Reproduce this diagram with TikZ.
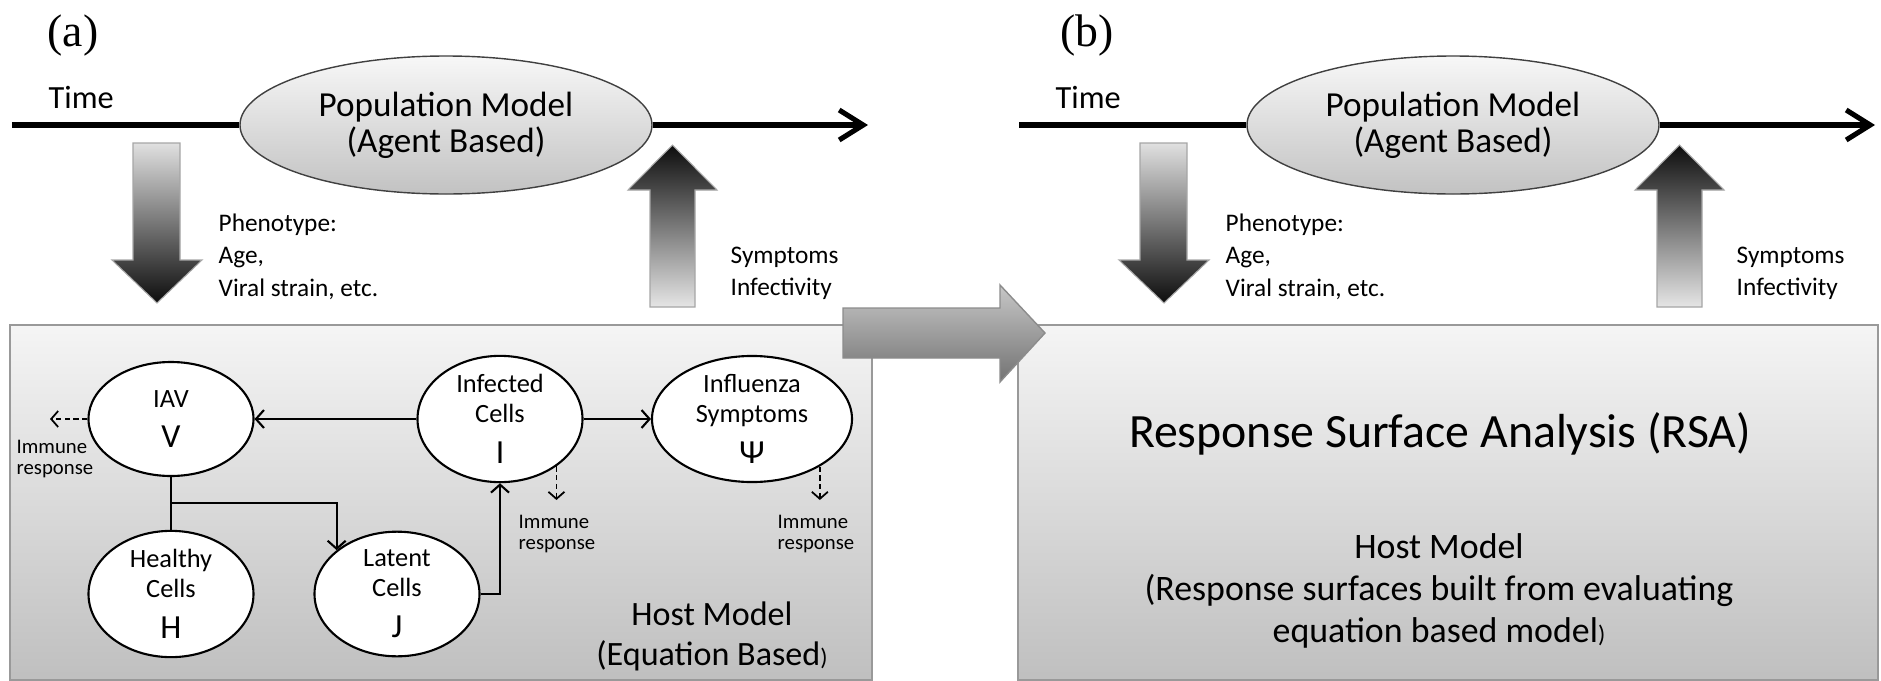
\documentclass[tikz,border=0pt]{standalone}
\usepackage{fontspec}
\setmainfont{Carlito}
\newfontfamily\panelfont{Liberation Serif}
\usepackage{tikz}
\usetikzlibrary{arrows.meta,shapes.geometric}
\newcommand{\edgewidth}{0.6pt}
\newcommand{\timewidth}{1.45pt}
\newcommand{\cellfont}{\fontsize{7.5}{8.5}\selectfont}
\newcommand{\letterfont}{\fontsize{9.6}{9}\selectfont}
\newcommand{\immunefont}{\fontsize{5.9}{6}\selectfont}
\newcommand{\notefont}{\fontsize{7.2}{9.25}\selectfont}
\newcommand{\popfont}{\fontsize{10}{10.3}\selectfont}
\newcommand{\tinyparen}{{\fontsize{6.8}{6.8}\selectfont )}}

\tikzset{
  panelbox/.style={draw=black!40, line width=0.5pt, top color=black!4, bottom color=black!25},
  popmodel/.style={ellipse, draw=black!75, line width=0.4pt, top color=black!3, bottom color=black!24,
    minimum width=4.12cm, minimum height=1.38cm, inner sep=0pt, align=center, font=\popfont},
  cell/.style={ellipse, draw, line width=\edgewidth, fill=white, minimum width=1.65cm,
    minimum height=1.14cm, inner sep=0pt, align=center, font=\cellfont},
  flow/.style={line width=\edgewidth, -{Straight Barb[length=0.8mm,width=1.8mm]}},
  immune/.style={line width=0.5pt, dash pattern=on 1.5pt off 1pt, -{Straight Barb[length=0.7mm,width=1.6mm]}},
  timeline/.style={line width=\timewidth},
  note/.style={anchor=north west, inner sep=0pt, align=left},
  downarrow/.style={draw=black!35, line width=0.3pt, top color=black!12, bottom color=black!95},
  uparrow/.style={draw=black!35, line width=0.3pt, top color=black!95, bottom color=black!10},
  bigarrow/.style={draw=black!45, line width=0.4pt, top color=black!22, bottom color=black!55}
}

\begin{document}
\begin{tikzpicture}
\useasboundingbox (0,0) rectangle (18.81,-6.81);
%boxes
\shade[panelbox] (0.10,-3.25) rectangle (8.72,-6.80);
\shade[panelbox] (10.18,-3.25) rectangle (18.78,-6.80);
%a
\node (pa) at (0.47,-0.355) [anchor=west, inner sep=0pt, font=\panelfont\fontsize{13}{13}\selectfont] {(a)};
\node (timea) at (0.48,-1.08) [anchor=base west, inner sep=0pt, font=\fontsize{9.2}{10}\selectfont] {Time};
\coordinate (ta0) at (0.12,-1.25);
\coordinate (ta1) at (8.68,-1.25);
\node[popmodel] (popa) at (4.46,-1.25) {Population Model\\(Agent Based)};
\draw[timeline] (ta0) -- (popa);
\draw[timeline, -{Straight Barb[length=2.4mm,width=3mm]}] (popa) -- (ta1);
\shade[downarrow] (1.33,-1.43) -- (1.80,-1.43) -- (1.80,-2.60) -- (2.02,-2.60) -- (1.57,-3.03) -- (1.12,-2.60) -- (1.33,-2.60) -- cycle;
\shade[uparrow] (6.50,-3.07) -- (6.95,-3.07) -- (6.95,-1.90) -- (7.17,-1.90) -- (6.725,-1.45) -- (6.28,-1.90) -- (6.50,-1.90) -- cycle;
\node (phena) at (2.18,-2.13) [note, font=\notefont] {Phenotype:\\Age,\\Viral strain, etc.};
\node (sympa) at (7.30,-2.46) [note, font=\notefont] {Symptoms\\Infectivity};
%host model a
\node[cell] (iav) at (1.71,-4.19) {IAV\\[2.7pt]{\letterfont V}};
\node[cell] (inf) at (5.00,-4.19) {Infected\\Cells\\[3.2pt]{\letterfont I}};
\node[cell] (flu) at (7.52,-4.19) [minimum width=2.00cm, minimum height=1.20cm] {Influenza\\Symptoms\\[3.2pt]{\letterfont Ψ}};
\node[cell] (hea) at (1.71,-5.94) {Healthy\\Cells\\[3.2pt]{\letterfont H}};
\node[cell] (lat) at (3.97,-5.94) {Latent\\Cells\\[3.2pt]{\letterfont J}};
\draw[flow] (inf) -- (iav);
\draw[flow] (inf) -- (flu);
\draw[line width=\edgewidth] (iav) -- (hea);
\coordinate (split) at (1.71,-5.03);
\draw[flow] (split) -| (lat.144);
\draw[flow] (lat.east) -| (inf.south);
\coordinate (immv) at (0.50,-4.19);
\coordinate (immi) at (5.52,-5.00);
\coordinate (immf) at (8.17,-5.00);
\draw[immune] (iav) -- (immv);
\draw[immune] (inf.-40) -- (inf.-40 |- immi);
\draw[immune] (flu.-35) -- (flu.-35 |- immf);
\node (nv) at (0.16,-4.39) [note, font=\immunefont] {Immune\\response};
\node (ni) at (5.18,-5.14) [note, font=\immunefont] {Immune\\response};
\node (nf) at (7.77,-5.14) [note, font=\immunefont] {Immune\\response};
\node (hosta) at (7.12,-6.36) [align=center, font=\fontsize{9.7}{11.4}\selectfont] {Host Model\\(Equation Based\tinyparen};
%b
\node (pb) at (10.60,-0.355) [anchor=west, inner sep=0pt, font=\panelfont\fontsize{13}{13}\selectfont] {(b)};
\node (timeb) at (10.55,-1.08) [anchor=base west, inner sep=0pt, font=\fontsize{9.2}{10}\selectfont] {Time};
\coordinate (tb0) at (10.19,-1.25);
\coordinate (tb1) at (18.75,-1.25);
\node[popmodel] (popb) at (14.53,-1.25) {Population Model\\(Agent Based)};
\draw[timeline] (tb0) -- (popb);
\draw[timeline, -{Straight Barb[length=2.4mm,width=3mm]}] (popb) -- (tb1);
\shade[downarrow] (11.40,-1.43) -- (11.87,-1.43) -- (11.87,-2.60) -- (12.09,-2.60) -- (11.64,-3.03) -- (11.19,-2.60) -- (11.40,-2.60) -- cycle;
\shade[uparrow] (16.57,-3.07) -- (17.02,-3.07) -- (17.02,-1.90) -- (17.24,-1.90) -- (16.795,-1.45) -- (16.35,-1.90) -- (16.57,-1.90) -- cycle;
\node (phenb) at (12.25,-2.13) [note, font=\notefont] {Phenotype:\\Age,\\Viral strain, etc.};
\node (sympb) at (17.36,-2.46) [note, font=\notefont] {Symptoms\\Infectivity};
%host model b
\node (rsa) at (14.40,-4.47) [anchor=base, font=\fontsize{13.6}{15}\selectfont] {Response Surface Analysis (RSA)};
\node (hostb) at (14.39,-5.91) [align=center, font=\fontsize{10.2}{11.95}\selectfont] {Host Model\\(Response surfaces built from evaluating\\equation based model\tinyparen};
%a to b
\shade[bigarrow] (8.43,-3.08) -- (10.00,-3.08) -- (10.00,-2.85) -- (10.45,-3.33) -- (10.00,-3.82) -- (10.00,-3.58) -- (8.43,-3.58) -- cycle;
\end{tikzpicture}
\end{document}
